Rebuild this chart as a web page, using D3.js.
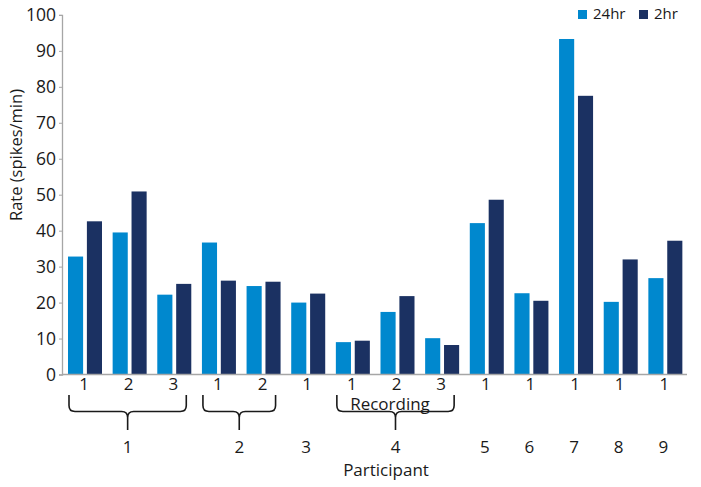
<!DOCTYPE html>
<html>
<head>
<meta charset="utf-8">
<script src="https://cdn.jsdelivr.net/npm/d3@7"></script>
<style>
  body { margin: 0; background: #fff; }
  text { font-family: "Open Sans", sans-serif; fill: #1a1a1a; }
</style>
</head>
<body>
<div id="chart"></div>
<script>
// one entry per bar pair
var participants = ["1", "1", "1", "2", "2", "3", "4", "4", "4", "5", "6", "7", "8", "9"];
var recordings   = ["1", "2", "3", "1", "2", "1", "1", "2", "3", "1", "1", "1", "1", "1"];
var rate24 = [32.8, 39.5, 22.2, 36.7, 24.6, 20.0, 9.0, 17.4, 10.1, 42.1, 22.6, 93.3, 20.2, 26.8];
var rate2  = [42.6, 50.9, 25.2, 26.1, 25.8, 22.5, 9.4, 21.8, 8.2, 48.6, 20.5, 77.5, 32.0, 37.2];
var seriesNames = ["24hr", "2hr"];
var yTicks = [0, 10, 20, 30, 40, 50, 60, 70, 80, 90, 100];

var width = 701, height = 487;
var colors = {"24hr": "#0088ce", "2hr": "#1b3162"};

var svg = d3.select("#chart").append("svg")
    .attr("width", width)
    .attr("height", height);

var ids = participants.map(function(p, i) { return i; });

var x0 = d3.scaleBand()
    .domain(ids)
    .range([62, 687]);

var x1 = d3.scaleBand()
    .domain(seriesNames)
    .range([6, 40])
    .paddingInner(0.2);

var y = d3.scaleLinear()
    .domain([0, 100])
    .range([374.5, 14.9]);

// y axis
var yAxis = svg.append("g")
    .attr("transform", "translate(62,0)")
    .call(d3.axisLeft(y).tickValues(yTicks).tickSize(3).tickPadding(3));
yAxis.select(".domain").attr("stroke", "#a6a6a6").attr("stroke-width", 1.3);
yAxis.selectAll(".tick line").attr("stroke", "#a6a6a6");
yAxis.selectAll(".tick text")
    .style("font-family", "'Open Sans', sans-serif")
    .style("font-size", "17.5px")
    .attr("fill", "#1a1a1a");

svg.append("text")
    .attr("transform", "translate(22,155) rotate(-90)")
    .attr("text-anchor", "middle")
    .style("font-size", "16.5px")
    .text("Rate (spikes/min)");

// bars
var rows = ids.map(function(i) {
    return {i: i, values: [
        {key: "24hr", value: rate24[i]},
        {key: "2hr", value: rate2[i]}
    ]};
});

var groups = svg.selectAll("g.grp")
    .data(rows)
    .enter().append("g")
    .attr("class", "grp")
    .attr("transform", function(d) { return "translate(" + x0(d.i) + ",0)"; });

groups.selectAll("rect")
    .data(function(d) { return d.values; })
    .enter().append("rect")
    .attr("x", function(d) { return x1(d.key); })
    .attr("width", x1.bandwidth())
    .attr("y", function(d) { return y(d.value); })
    .attr("height", function(d) { return y(0) - y(d.value); })
    .attr("fill", function(d) { return colors[d.key]; });

// x axis line
svg.append("line")
    .attr("x1", 62).attr("x2", 687)
    .attr("y1", y(0)).attr("y2", y(0))
    .attr("stroke", "#a6a6a6")
    .attr("stroke-width", 1.3);

// recording labels
svg.selectAll("text.rec")
    .data(ids)
    .enter().append("text")
    .attr("class", "rec")
    .attr("x", function(i) { return x0(i) + 22; })
    .attr("y", 390)
    .attr("text-anchor", "middle")
    .style("font-size", "17px")
    .text(function(i) { return recordings[i]; });

// participant groups
var pGroups = [];
participants.forEach(function(p, i) {
    var last = pGroups[pGroups.length - 1];
    if (last && last.p === p) { last.end = i; }
    else { pGroups.push({p: p, start: i, end: i}); }
});

pGroups.forEach(function(g) {
    var xl = x0(g.start) + 7;
    var xr = x0(g.end) + 35;
    var xc = (x0(g.start) + x0(g.end)) / 2 + 21;
    if (g.end > g.start) {
        var top = 395, mid = 411.5, tip = 430, r = 6;
        var d = "M" + xl + "," + top + " L" + xl + "," + (mid - r) +
            " Q" + xl + "," + mid + " " + (xl + r) + "," + mid +
            " L" + (xc - r) + "," + mid +
            " Q" + xc + "," + mid + " " + xc + "," + (mid + r) +
            " L" + xc + "," + tip +
            " M" + xc + "," + (mid + r) +
            " Q" + xc + "," + mid + " " + (xc + r) + "," + mid +
            " L" + (xr - r) + "," + mid +
            " Q" + xr + "," + mid + " " + xr + "," + (mid - r) +
            " L" + xr + "," + top;
        svg.append("path")
            .attr("d", d)
            .attr("fill", "none")
            .attr("stroke", "#1a1a1a")
            .attr("stroke-width", 1.6);
    }
    svg.append("text")
        .attr("x", xc)
        .attr("y", 453)
        .attr("text-anchor", "middle")
        .style("font-size", "17px")
        .text(g.p);
});

svg.append("text")
    .attr("x", 390)
    .attr("y", 410)
    .attr("text-anchor", "middle")
    .style("font-size", "17px")
    .text("Recording");

svg.append("text")
    .attr("x", 386)
    .attr("y", 476)
    .attr("text-anchor", "middle")
    .style("font-size", "17px")
    .text("Participant");

// legend
var legend = svg.selectAll("g.leg")
    .data(seriesNames)
    .enter().append("g")
    .attr("class", "leg")
    .attr("transform", function(d, i) { return "translate(" + (578 + i * 61) + ",9)"; });

legend.append("rect")
    .attr("width", 9).attr("height", 9)
    .attr("y", 1)
    .attr("fill", function(d) { return colors[d]; });

legend.append("text")
    .attr("x", 15)
    .attr("y", 10)
    .style("font-size", "15px")
    .text(function(d) { return d; });
</script>
</body>
</html>
